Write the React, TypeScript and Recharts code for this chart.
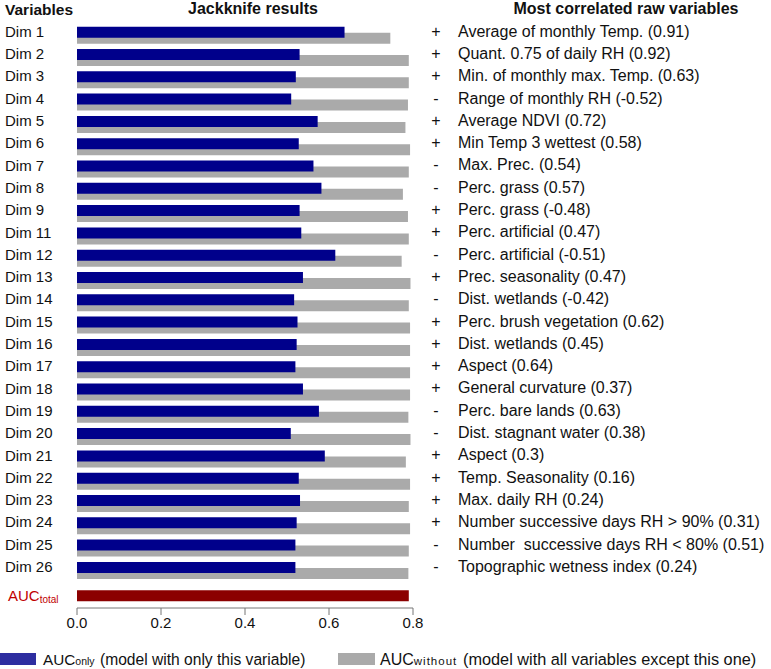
import React from "react"
import { Bar, BarChart, Cell, XAxis, YAxis } from "recharts"

const categories = [
  "Dim 1", "Dim 2", "Dim 3", "Dim 4", "Dim 5", "Dim 6", "Dim 7", "Dim 8", "Dim 9",
  "Dim 11", "Dim 12", "Dim 13", "Dim 14", "Dim 15", "Dim 16", "Dim 17", "Dim 18",
  "Dim 19", "Dim 20", "Dim 21", "Dim 22", "Dim 23", "Dim 24", "Dim 25", "Dim 26",
]

const aucOnly = [
  0.637, 0.53, 0.521, 0.51, 0.573, 0.528, 0.563, 0.582, 0.53,
  0.534, 0.615, 0.538, 0.517, 0.525, 0.523, 0.52, 0.538,
  0.576, 0.509, 0.59, 0.528, 0.531, 0.523, 0.52, 0.52,
]

const aucWithout = [
  0.746, 0.79, 0.79, 0.788, 0.782, 0.793, 0.79, 0.776, 0.788,
  0.79, 0.773, 0.794, 0.79, 0.793, 0.793, 0.793, 0.793,
  0.789, 0.794, 0.783, 0.793, 0.79, 0.793, 0.79, 0.789,
]

const aucTotal = 0.79

const signs = [
  "+", "+", "+", "-", "+", "+", "-", "-", "+",
  "+", "-", "+", "-", "+", "+", "+", "+",
  "-", "-", "+", "+", "+", "+", "-", "-",
]

const rawVariables = [
  "Average of monthly Temp. (0.91)",
  "Quant. 0.75 of daily RH (0.92)",
  "Min. of monthly max. Temp. (0.63)",
  "Range of monthly RH (-0.52)",
  "Average NDVI (0.72)",
  "Min Temp 3 wettest (0.58)",
  "Max. Prec. (0.54)",
  "Perc. grass (0.57)",
  "Perc. grass (-0.48)",
  "Perc. artificial (0.47)",
  "Perc. artificial (-0.51)",
  "Prec. seasonality (0.47)",
  "Dist. wetlands (-0.42)",
  "Perc. brush vegetation (0.62)",
  "Dist. wetlands (0.45)",
  "Aspect (0.64)",
  "General curvature (0.37)",
  "Perc. bare lands (0.63)",
  "Dist. stagnant water (0.38)",
  "Aspect (0.3)",
  "Temp. Seasonality (0.16)",
  "Max. daily RH (0.24)",
  "Number successive days RH > 90% (0.31)",
  "Number  successive days RH < 80% (0.51)",
  "Topographic wetness index (0.24)",
]

const xTicks = [0, 0.2, 0.4, 0.6, 0.8]

const TOTAL = "AUCtotal"

const rows = [
  ...categories.map((name, i) => ({ name, only: aucOnly[i], without: aucWithout[i] })),
  { name: TOTAL, only: null, without: aucTotal },
]

const FONT = "'Liberation Sans', Arial, sans-serif"
const BLUE = "#00008b"
const GRAY = "#aaaaaa"
const DARKRED = "#8b0000"

const W = 771
const H = 669
const TOP = 23.7
const PAD_BOTTOM = 4.5

function LeftTick(props: any) {
  const { y, payload } = props
  if (payload.value === TOTAL) {
    return (
      <text x={8} y={y + 8.5} fill="#c00000" fontSize={15} fontFamily={FONT}>
        AUC
        <tspan fontSize={10} dy={2}>total</tspan>
      </text>
    )
  }
  return (
    <text x={5} y={y + 2} fill="#111" fontSize={15} fontFamily={FONT}>
      {payload.value}
    </text>
  )
}

function RightTick(props: any) {
  const { y, payload } = props
  const i = categories.indexOf(payload.value)
  if (i < 0) return <g />
  return (
    <g fontSize={16} fontFamily={FONT} fill="#111">
      <text x={436} y={y + 1.8} textAnchor="middle">{signs[i]}</text>
      <text x={458} y={y + 1.8} style={{ whiteSpace: "pre" }}>{rawVariables[i]}</text>
    </g>
  )
}

export default function App() {
  return (
    <div style={{ position: "absolute", left: 0, top: 0, width: W, height: H, background: "#fff" }}>
      {/* base layer: axes, labels and the AUC without bars */}
      <div style={{ position: "absolute", left: 0, top: 0 }}>
        <BarChart
          width={W}
          height={H}
          data={rows}
          layout="vertical"
          barSize={11}
          barGap={-5}
          margin={{ top: TOP, right: 0, bottom: 31, left: 0 }}
        >
          <XAxis
            type="number"
            domain={[0, 0.8]}
            ticks={xTicks}
            allowDataOverflow
            height={30}
            tickSize={7}
            tickFormatter={(v: number) => v.toFixed(1)}
            tick={{ fontSize: 15, fill: "#111", fontFamily: FONT }}
            stroke="#777"
          />
          <YAxis
            yAxisId="left"
            type="category"
            dataKey="name"
            width={77}
            axisLine={false}
            tickLine={false}
            interval={0}
            padding={{ top: 0, bottom: PAD_BOTTOM }}
            tick={<LeftTick />}
          />
          <YAxis
            yAxisId="right"
            orientation="right"
            type="category"
            dataKey="name"
            width={358}
            axisLine={false}
            tickLine={false}
            interval={0}
            padding={{ top: 0, bottom: PAD_BOTTOM }}
            tick={<RightTick />}
          />
          <Bar yAxisId="left" dataKey="only" fill="transparent" isAnimationActive={false} />
          <Bar yAxisId="left" dataKey="without" fill={GRAY} isAnimationActive={false}>
            {rows.map((r) => (
              <Cell key={r.name} fill={r.name === TOTAL ? DARKRED : GRAY} />
            ))}
          </Bar>
        </BarChart>
      </div>
      {/* top layer: AUC only bars drawn over the grey ones */}
      <div style={{ position: "absolute", left: 0, top: 0, pointerEvents: "none" }}>
        <BarChart
          width={W}
          height={H}
          data={rows}
          layout="vertical"
          barSize={11}
          barGap={-5}
          margin={{ top: TOP, right: 358, bottom: H - 608, left: 77 }}
        >
          <XAxis type="number" domain={[0, 0.8]} allowDataOverflow hide />
          <YAxis type="category" dataKey="name" hide padding={{ top: 0, bottom: PAD_BOTTOM }} />
          <Bar dataKey="only" fill={BLUE} isAnimationActive={false} />
          <Bar dataKey="without" fill="transparent" isAnimationActive={false} />
        </BarChart>
      </div>
      <svg
        width={W}
        height={H}
        style={{ position: "absolute", left: 0, top: 0, pointerEvents: "none" }}
        fontFamily={FONT}
      >
        <text x={5} y={15} fontSize={15.5} fontWeight="bold" fill="#111">Variables</text>
        <text x={253} y={14} fontSize={16} fontWeight="bold" fill="#111" textAnchor="middle">
          Jackknife results
        </text>
        <text x={626} y={14} fontSize={16} fontWeight="bold" fill="#111" textAnchor="middle">
          Most correlated raw variables
        </text>
        <rect x={0} y={653} width={36} height={12} fill="#2e2ea0" />
        <text y={665} fill="#111">
          <tspan x={43} fontSize={15.3}>AUC</tspan>
          <tspan fontSize={10.5}>only</tspan>
          <tspan x={100} fontSize={15.6}>(model with only this variable)</tspan>
        </text>
        <rect x={338} y={653} width={37} height={12} fill={GRAY} />
        <text y={665} fill="#111">
          <tspan x={380} fontSize={16}>AUC</tspan>
          <tspan fontSize={11.5} letterSpacing={1}>without</tspan>
          <tspan x={463} fontSize={16.3}>(model with all variables except this one)</tspan>
        </text>
      </svg>
    </div>
  )
}
